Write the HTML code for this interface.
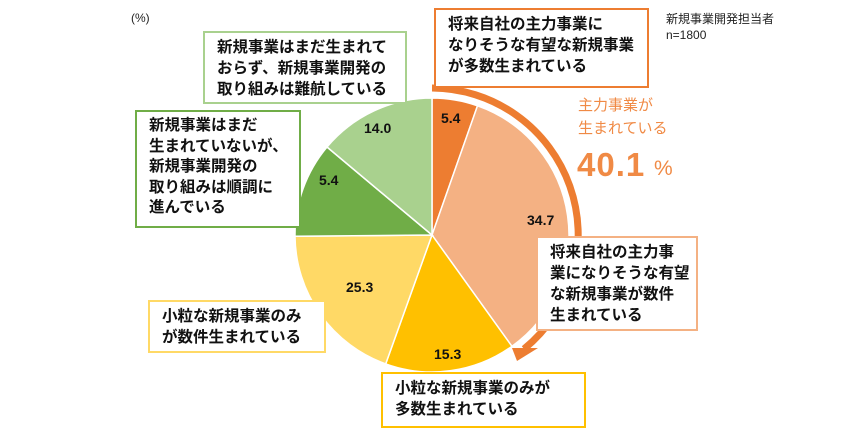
<!DOCTYPE html>
<html><head><meta charset="utf-8"><style>
body{margin:0;width:865px;height:440px;background:#fff;position:relative;overflow:hidden;font-family:"Liberation Sans","Noto Sans CJK JP",sans-serif}
.b{position:absolute;background:#fff;border:2px solid;box-sizing:border-box;font-weight:bold;font-size:15.5px;line-height:21px;color:#111;padding:4px 0 0 12px;white-space:nowrap}
.t{position:absolute;font-size:12px;color:#222}
</style></head><body>
<svg width="865" height="440" style="position:absolute;left:0;top:0">
<g stroke="#fff" stroke-width="1.5">
<path d="M432,235 L432,98 A137,137 0 0 1 477.5,105.8 Z" fill="#ED7D31"/>
<path d="M432,235 L477.5,105.8 A137,137 0 0 1 511.9,346.3 Z" fill="#F4B183"/>
<path d="M432,235 L511.9,346.3 A137,137 0 0 1 385.7,363.9 Z" fill="#FFC000"/>
<path d="M432,235 L385.7,363.9 A137,137 0 0 1 295,236.2 Z" fill="#FFD966"/>
<path d="M432,235 L295,236.2 A137,137 0 0 1 327,147 Z" fill="#70AD47"/>
<path d="M432,235 L327,147 A137,137 0 0 1 432,98 Z" fill="#A9D18E"/>
</g>
<path d="M432,88 A147,147 0 0 1 524,349" fill="none" stroke="#ED7D31" stroke-width="7"/>
<polygon points="512,348 538,348 517,361" fill="#ED7D31"/>
<g font-weight="bold" font-size="14" fill="#111" font-family="Liberation Sans,sans-serif">
<text x="441" y="123">5.4</text><text x="527" y="225">34.7</text><text x="434" y="359">15.3</text>
<text x="346" y="292">25.3</text><text x="319" y="185">5.4</text><text x="364" y="133">14.0</text>
</g>
<g fill="#F08A45" font-family="Liberation Sans,Noto Sans CJK JP,sans-serif">
<text x="578" y="110" font-size="15">主力事業が</text><text x="578" y="133" font-size="15">生まれている</text>
<text x="577" y="176" font-size="33" font-weight="bold" letter-spacing="1">40.1</text><text x="654" y="175" font-size="21">%</text>
</g>
</svg>
<div class="t" style="left:131px;top:11px">(%)</div>
<div class="t" style="left:666px;top:11px;line-height:16px">新規事業開発担当者<br>n=1800</div>
<div class="b" style="left:434px;top:8px;width:215px;height:80px;border-color:#ED7D31">将来自社の主力事業に<br>なりそうな有望な新規事業<br>が多数生まれている</div>
<div class="b" style="left:203px;top:31px;width:204px;height:73px;border-color:#A9D18E">新規事業はまだ生まれて<br>おらず、新規事業開発の<br>取り組みは難航している</div>
<div class="b" style="left:135px;top:110px;width:166px;height:118px;border-color:#70AD47;line-height:20.5px">新規事業はまだ<br>生まれていないが、<br>新規事業開発の<br>取り組みは順調に<br>進んでいる</div>
<div class="b" style="left:148px;top:300px;width:178px;height:53px;border-color:#FFD966">小粒な新規事業のみ<br>が数件生まれている</div>
<div class="b" style="left:381px;top:372px;width:205px;height:56px;border-color:#FFC000">小粒な新規事業のみが<br>多数生まれている</div>
<div class="b" style="left:536px;top:236px;width:162px;height:95px;border-color:#F4B183">将来自社の主力事<br>業になりそうな有望<br>な新規事業が数件<br>生まれている</div>
</body></html>
